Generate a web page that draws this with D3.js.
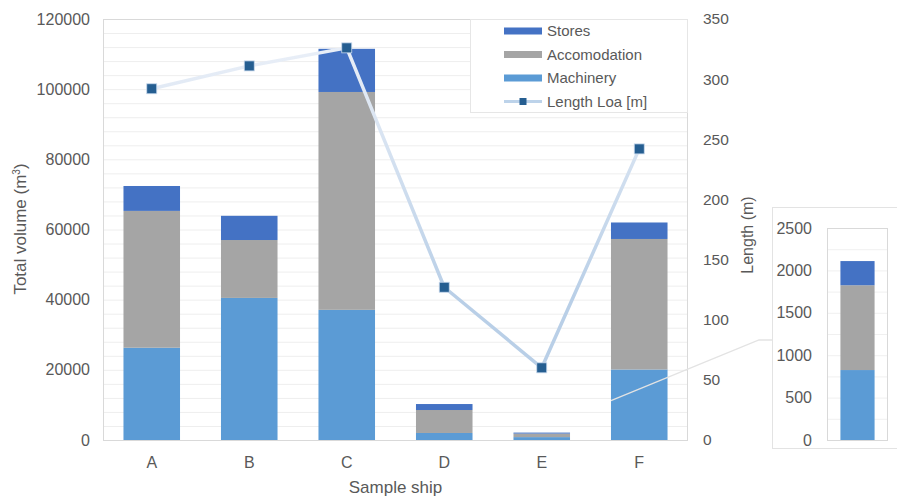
<!DOCTYPE html>
<html><head><meta charset="utf-8">
<script src="https://cdn.jsdelivr.net/npm/d3@7"></script>
<style>
html,body{margin:0;padding:0;background:#fff;}
text{font-family:"Liberation Sans",Arial,sans-serif;fill:#595959;}
</style></head>
<body>
<svg id="chart" width="897" height="498"></svg>
<script>
const categories = ["A","B","C","D","E","F"];
const machinery = [26300, 40500, 37100, 2000, 825, 20100];
const accomodation = [39000, 16500, 62100, 6550, 1000, 37200];
const stores = [7100, 6900, 12300, 1700, 285, 4700];
const lengthLoa = [292, 311, 326, 127, 60, 242];
const leftTicks = [0,20000,40000,60000,80000,100000,120000];
const rightTicks = [0,50,100,150,200,250,300,350];
const insetCategory = "E";
const insetTicks = [0,500,1000,1500,2000,2500];
const seriesNames = ["Machinery","Accomodation","Stores"];
const colors = {Machinery:"#5b9bd5", Accomodation:"#a5a5a5", Stores:"#4472c4"};

const svg = d3.select("#chart");
const L=103, R=688, T=19, B=440;
const x = d3.scaleBand().domain(categories).range([L,R]).paddingInner(0.42).paddingOuter(0.21);
const y = d3.scaleLinear().domain([0,120000]).range([B,T]);
const y2 = d3.scaleLinear().domain([0,350]).range([B,T]);

// defs
const defs = svg.append("defs");
const grad = defs.append("linearGradient").attr("id","lineGrad")
  .attr("gradientUnits","userSpaceOnUse").attr("x1",0).attr("y1",y2(320)).attr("x2",0).attr("y2",y2(120));
grad.append("stop").attr("offset","0").attr("stop-color","#e8eef7");
grad.append("stop").attr("offset","1").attr("stop-color","#b9cfe7");

// gridlines
svg.append("g").selectAll("line").data(d3.range(4000,120001,4000)).join("line")
  .attr("x1",L).attr("x2",R).attr("y1",d=>y(d)+0.5).attr("y2",d=>y(d)+0.5)
  .attr("stroke","#eeeeee").attr("stroke-width",1);
// plot frame
svg.append("rect").attr("x",L+0.5).attr("y",T+0.5).attr("width",R-L-1).attr("height",B-T)
  .attr("fill","none").attr("stroke","#d9d9d9");

// stacked bars
const rows = categories.map((c,i)=>({cat:c, Machinery:machinery[i], Accomodation:accomodation[i], Stores:stores[i]}));
const stack = d3.stack().keys(seriesNames)(rows);
svg.append("g").selectAll("g").data(stack).join("g").attr("fill",d=>colors[d.key])
  .selectAll("rect").data(d=>d).join("rect")
  .attr("x",d=>x(d.data.cat)).attr("width",x.bandwidth())
  .attr("y",d=>y(d[1])).attr("height",d=>y(d[0])-y(d[1]));

// connector from F bar to inset
const fx = x("F");
svg.append("polyline")
  .attr("points",`${fx},${y(11200)} ${fx+148},${y(28500)} ${fx+163},${y(28500)}`)
  .attr("fill","none").attr("stroke","#e3e3e3").attr("stroke-width",1.3);

// length line
const pts = categories.map((c,i)=>[x(c)+x.bandwidth()/2, y2(lengthLoa[i])]);
svg.append("path").attr("d",d3.line()(pts)).attr("fill","none")
  .attr("stroke","url(#lineGrad)").attr("stroke-width",3.5).attr("stroke-linejoin","round");
svg.append("g").selectAll("rect").data(pts).join("rect")
  .attr("x",d=>d[0]-5).attr("y",d=>d[1]-5).attr("width",10).attr("height",10)
  .attr("fill","#255e91").attr("stroke","#c7d8ec").attr("stroke-width",0.8);

// left axis labels
svg.append("g").selectAll("text").data(leftTicks).join("text")
  .attr("x",90).attr("y",d=>y(d)).attr("dy","0.35em").attr("text-anchor","end")
  .style("font-size","16px").text(d=>d);
// right axis labels
svg.append("g").selectAll("text").data(rightTicks).join("text")
  .attr("x",703).attr("y",d=>y2(d)).attr("dy","0.35em").attr("text-anchor","start")
  .style("font-size","15.5px").text(d=>d);
// x labels
svg.append("g").selectAll("text").data(categories).join("text")
  .attr("x",d=>x(d)+x.bandwidth()/2).attr("y",462).attr("dy","0.35em").attr("text-anchor","middle")
  .style("font-size","16px").text(d=>d);

// axis titles
svg.append("text").attr("transform","translate(26,229) rotate(-90)").attr("text-anchor","middle")
  .style("font-size","17px").html('Total volume (m<tspan dy="-6" font-size="10">3</tspan><tspan dy="6">)</tspan>');
svg.append("text").attr("transform","translate(753,235) rotate(-90)").attr("text-anchor","middle")
  .style("font-size","16px").text("Length (m)");
svg.append("text").attr("x",(L+R)/2).attr("y",487).attr("dy","0.35em").attr("text-anchor","middle")
  .style("font-size","17px").text("Sample ship");

// legend
const lg = svg.append("g");
lg.append("rect").attr("x",470.5).attr("y",T+0.5).attr("width",R-470-1).attr("height",93)
  .attr("fill","#fff").attr("stroke","#e6e6e6");
const legItems = ["Stores","Accomodation","Machinery"];
legItems.forEach((k,i)=>{
  const yy = 31 + i*23.5;
  lg.append("rect").attr("x",504).attr("y",yy-3.5).attr("width",38).attr("height",7).attr("fill",colors[k]);
  lg.append("text").attr("x",547).attr("y",yy).attr("dy","0.35em").style("font-size","15px").text(k);
});
const ly = 31 + 3*23.5;
lg.append("line").attr("x1",504).attr("x2",542).attr("y1",ly).attr("y2",ly).attr("stroke","#bdd3ea").attr("stroke-width",3);
lg.append("rect").attr("x",519.5).attr("y",ly-3.5).attr("width",7).attr("height",7).attr("fill","#255e91");
lg.append("text").attr("x",547).attr("y",ly).attr("dy","0.35em").style("font-size","15px").text("Length Loa [m]");

// inset chart
const iL=827, iR=888, iT=228, iB=440;
const yi = d3.scaleLinear().domain([0,2500]).range([iB,iT]);
const xi = d3.scaleBand().domain([insetCategory]).range([iL,iR]).paddingInner(0.44).paddingOuter(0.22);
const ins = svg.append("g");
ins.append("rect").attr("x",772.5).attr("y",207.5).attr("width",140).attr("height",241)
  .attr("fill","#fff").attr("stroke","#e3e3e3");
ins.selectAll("line.g").data(d3.range(250,2501,250)).join("line")
  .attr("x1",iL).attr("x2",iR).attr("y1",d=>yi(d)+0.5).attr("y2",d=>yi(d)+0.5).attr("stroke","#f0f0f0");
ins.append("rect").attr("x",iL+0.5).attr("y",iT+0.5).attr("width",iR-iL-1).attr("height",iB-iT)
  .attr("fill","none").attr("stroke","#d9d9d9");
const ei = categories.indexOf(insetCategory);
const insetStack = d3.stack().keys(seriesNames)([rows[ei]]);
ins.append("g").selectAll("rect").data(insetStack).join("rect")
  .attr("fill",d=>colors[d.key])
  .attr("x",xi(insetCategory)).attr("width",xi.bandwidth())
  .attr("y",d=>yi(d[0][1])).attr("height",d=>yi(d[0][0])-yi(d[0][1]));
ins.append("g").selectAll("text").data(insetTicks).join("text")
  .attr("x",812).attr("y",d=>yi(d)).attr("dy","0.35em").attr("text-anchor","end")
  .style("font-size","16px").text(d=>d);
</script>
</body></html>
